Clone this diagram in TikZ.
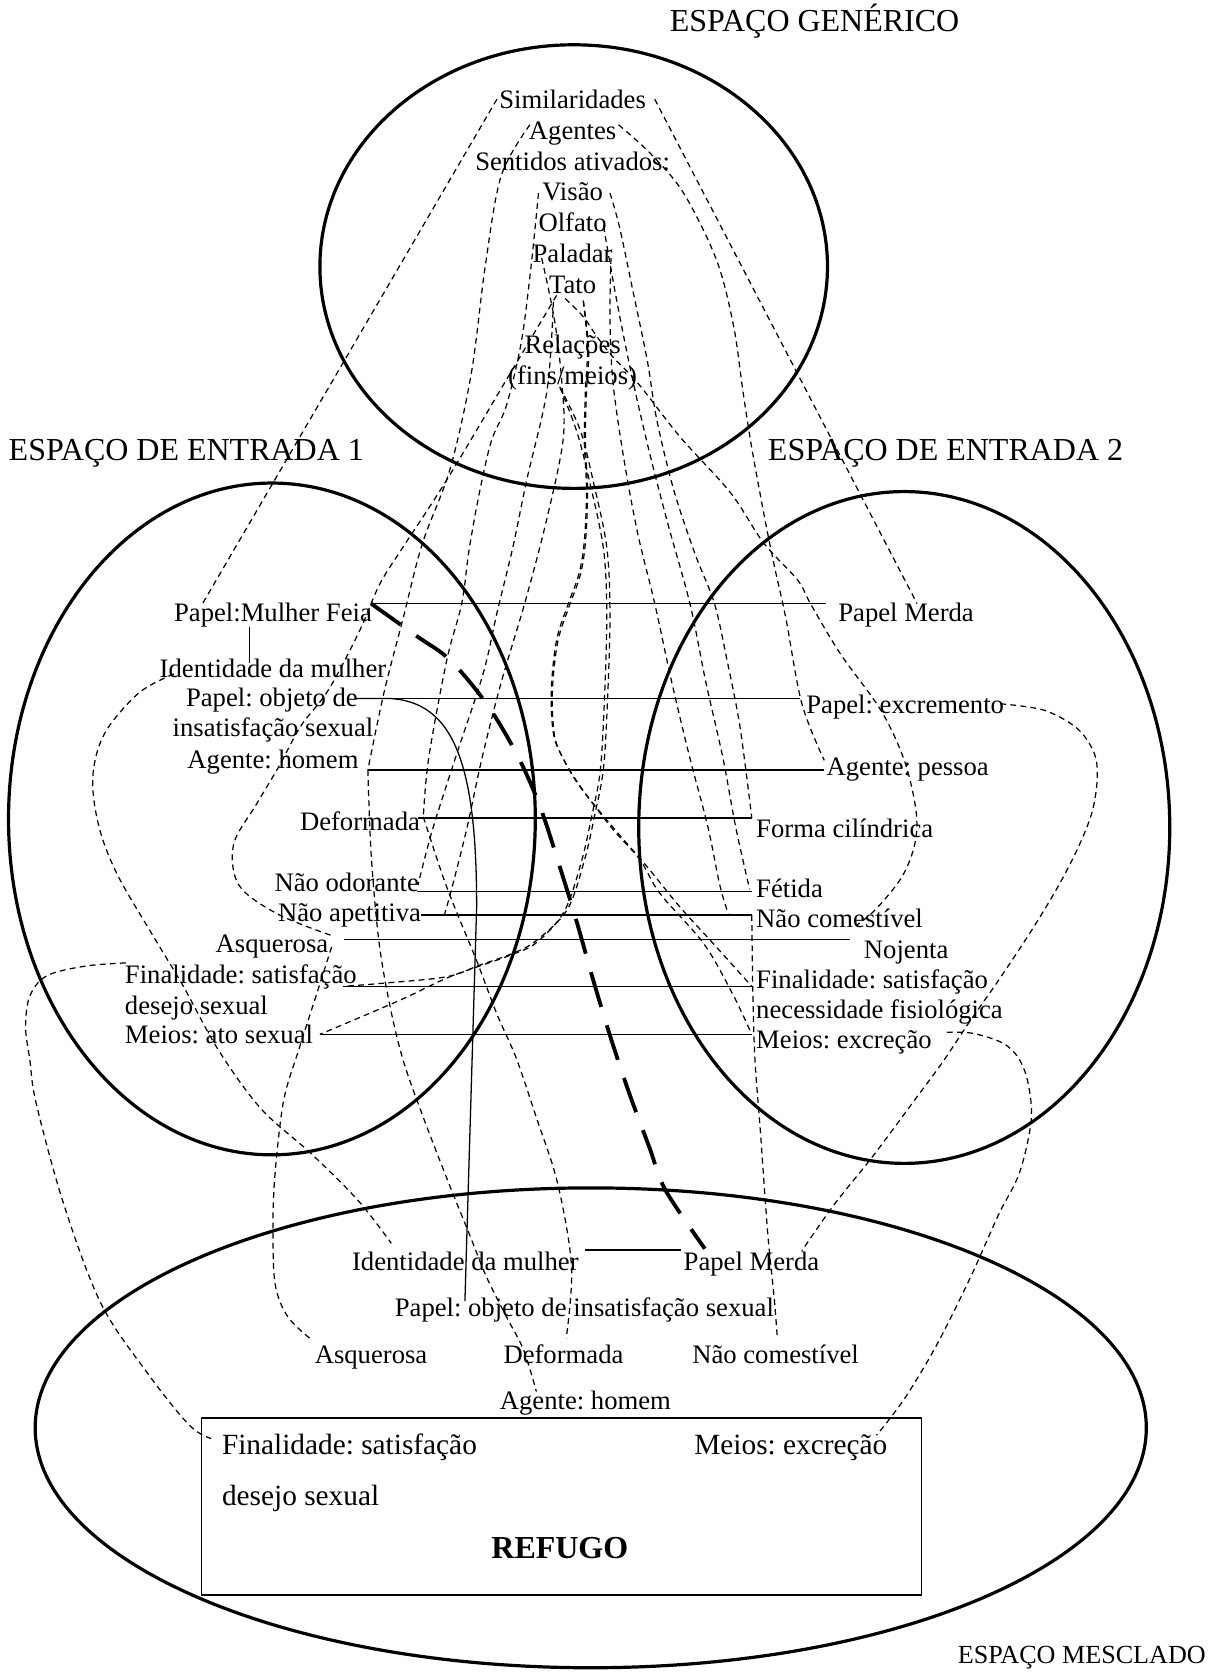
\documentclass[tikz,border=0pt]{standalone}
\usepackage{fontspec}
\setmainfont{Liberation Serif}
\frenchspacing
\begin{document}
\begin{tikzpicture}[x=1pt,y=-1pt,
  txt/.style={inner sep=0pt, font=\fontsize{25}{29}\selectfont},
  ttl/.style={inner sep=0pt, font=\fontsize{30}{34}\selectfont},
  boxtxt/.style={inner sep=0pt, font=\fontsize{27.5}{31}\selectfont},
  space/.style={line width=3pt},
  link/.style={line width=1.5pt},
  dsh/.style={line width=1.15pt, dash pattern=on 5.5pt off 4pt},
  blendln/.style={line width=3.6pt, dash pattern=on 34pt off 18pt},
  sm/.style={smooth, tension=0.55}
]
\useasboundingbox (0,0) rectangle (1151,1568);

% ---------- the four mental spaces ----------
\draw[space] (538,250) ellipse [x radius=238, y radius=208];
\draw[space] (255,768) ellipse [x radius=247, y radius=315];
\draw[space] (848,776) ellipse [x radius=249, y radius=315];
\draw[space] (554,1339) ellipse [x radius=521, y radius=225];
\draw[line width=1.5pt] (189,1330) rectangle (864,1496);

% ---------- titles ----------
\node[ttl, anchor=base west] (tg) at (628,30) {ESPAÇO GENÉRICO};
\node[ttl, anchor=base west] (t1) at (8,432) {ESPAÇO DE ENTRADA 1};
\node[ttl, anchor=base west] (t2) at (720,432) {ESPAÇO DE ENTRADA 2};
\node[inner sep=0pt, font=\fontsize{24.5}{28}\selectfont, anchor=base east] (tm) at (1131,1560) {ESPAÇO MESCLADO};

% ---------- generic space ----------
\node[txt, anchor=base] (sim) at (537,102) {Similaridades};
\node[txt, anchor=base] (ag) at (537,130.8) {Agentes};
\node[txt, anchor=base] (sen) at (537,159.6) {Sentidos ativados:};
\node[txt, anchor=base] (vis) at (537,188.4) {Visão};
\node[txt, anchor=base] (olf) at (537,217.2) {Olfato};
\node[txt, anchor=base] (pal) at (537,246) {Paladar};
\node[txt, anchor=base] (tat) at (537,274.8) {Tato};
\node[txt, anchor=base] (rel) at (537,331.6) {Relações};
\node[txt, anchor=base] (fm) at (537,360.4) {(fins/meios)};

% ---------- input space 1 ----------
\node[txt, anchor=base] (pmf1) at (256,583) {Papel:Mulher Feia};
\node[txt, anchor=base] (ide1) at (256,635) {Identidade da mulher};
\node[txt, anchor=base] (obj1) at (255,663) {Papel: objeto de};
\node[txt, anchor=base] (ins1) at (256,691) {insatisfação sexual};
\node[txt, anchor=base] (agh1) at (256,720.5) {Agente: homem};
\node[txt, anchor=base east] (def1) at (394,778.6) {Deformada};
\node[txt, anchor=base east] (nod1) at (393,836.5) {Não odorante};
\node[txt, anchor=base east] (nap1) at (395,864.6) {Não apetitiva};
\node[txt, anchor=base east] (asq1) at (308,892.8) {Asquerosa};
\node[txt, anchor=base west] (fin1) at (117,922.4) {Finalidade: satisfação};
\node[txt, anchor=base west] (des1) at (117,951.3) {desejo sexual};
\node[txt, anchor=base west] (mei1) at (117,979) {Meios: ato sexual};

% ---------- input space 2 ----------
\node[txt, anchor=base west] (pme2) at (786,583) {Papel Merda};
\node[txt, anchor=base west] (exc2) at (756,669) {Papel: excremento};
\node[txt, anchor=base west] (agp2) at (775,727) {Agente: pessoa};
\node[txt, anchor=base west] (for2) at (709,785) {Forma cilíndrica};
\node[txt, anchor=base west] (fet2) at (709,842) {Fétida};
\node[txt, anchor=base west] (ncm2) at (709,870) {Não comestível};
\node[txt, anchor=base west] (noj2) at (810,899) {Nojenta};
\node[txt, anchor=base west] (fin2) at (709,927) {Finalidade: satisfação};
\node[txt, anchor=base west] (nec2) at (709,955) {necessidade fisiológica};
\node[txt, anchor=base west] (mei2) at (709,983) {Meios: excreção};

% ---------- blended space ----------
\node[txt, anchor=base west] (ideB) at (330,1191) {Identidade da mulher};
\node[txt, anchor=base west] (pmeB) at (641,1191) {Papel Merda};
\node[txt, anchor=base] (objB) at (548,1235) {Papel: objeto de insatisfação sexual};
\node[txt, anchor=base west] (asqB) at (295,1279) {Asquerosa};
\node[txt, anchor=base west] (defB) at (472,1279) {Deformada};
\node[txt, anchor=base west] (ncmB) at (649,1279) {Não comestível};
\node[txt, anchor=base] (aghB) at (549,1322) {Agente: homem};
\node[boxtxt, anchor=base west] (finB) at (208,1364) {Finalidade: satisfação};
\node[boxtxt, anchor=base west] (desB) at (208,1412) {desejo sexual};
\node[boxtxt, anchor=base west] (meiB) at (651,1364) {Meios: excreção};
\node[inner sep=0pt, font=\fontsize{30}{34}\selectfont\bfseries, anchor=base] (ref) at (525,1462) {REFUGO};

% ---------- connector end points ----------
\coordinate (simL) at (466,93);   \coordinate (simR) at (614,93);
\coordinate (agL) at (497,117);   \coordinate (agR) at (580,117);
\coordinate (visL) at (505,181);  \coordinate (visR) at (572,181);
\coordinate (olfR) at (566,212);
\coordinate (palL) at (508,242);  \coordinate (palR) at (573,242);
\coordinate (tatL) at (522,277);  \coordinate (tatM) at (519,283);
\coordinate (tatR) at (530,280);  \coordinate (tatB) at (547,282);
\coordinate (fmL) at (525,363);

\coordinate (pmfT) at (190,566);  \coordinate (pmeT) at (860,566);
\coordinate (a1) at (348,566);  \coordinate (a2) at (775,566);
\coordinate (b1) at (334,655);  \coordinate (b2) at (750,655);
\coordinate (c1) at (345,722);  \coordinate (c2) at (773,722);
\coordinate (d1) at (392,767);  \coordinate (d2) at (705,767);
\coordinate (e1) at (391,836);  \coordinate (e2) at (705,836);
\coordinate (f1) at (395,858);  \coordinate (f2) at (705,858);
\coordinate (g1) at (323,881);  \coordinate (g2) at (797,881);
\coordinate (h1) at (322,925);  \coordinate (h2) at (705,925);
\coordinate (i1) at (300,970);  \coordinate (i2) at (705,970);
\coordinate (v1) at (234,588);  \coordinate (v2) at (234,622);
\coordinate (j1) at (549,1172); \coordinate (j2) at (639,1172);

\coordinate (agpT) at (773,713);
\coordinate (defE) at (397,766);
\coordinate (nodE) at (392,830);
\coordinate (napE) at (417,857);
\coordinate (asqT) at (310,877);
\coordinate (nojT) at (803,868);
\coordinate (ncmT) at (683,857);
\coordinate (fetE) at (703,834);
\coordinate (ideL) at (163,632);
\coordinate (asqD) at (311,888);
\coordinate (finL) at (118,903);
\coordinate (excR) at (938,660);
\coordinate (meiR) at (888,968);
\coordinate (objE) at (436,1220);
\coordinate (pmeBT) at (661,1171);
\coordinate (pmeBM) at (752,1173);
\coordinate (ideBT) at (367,1166);
\coordinate (asqBT) at (293,1257);
\coordinate (defBT) at (531,1255);
\coordinate (ncmBT) at (729,1255);
\coordinate (aghBT) at (503,1305);
\coordinate (finBT) at (198,1349);
\coordinate (meiBT) at (822,1346);

% ---------- solid correspondences ----------
\draw[link] (a1) -- (a2);
\draw[link] (b1) -- (b2);
\draw[link] (c1) -- (c2);
\draw[link] (d1) -- (d2);
\draw[link] (e1) -- (e2);
\draw[link] (f1) -- (f2);
\draw[link] (g1) -- (g2);
\draw[link] (h1) -- (h2);
\draw[link] (i1) -- (i2);
\draw[link] (v1) -- (v2);
\draw[link] (j1) -- (j2);
\draw[line width=1.2pt] (b1) -- (365,655) .. controls (425,658) and (447,715) .. (447,850) -- (objE);

% ---------- projection Papel:Mulher Feia -> Papel Merda ----------
\draw[blendln] plot[sm] coordinates {(a1) (390,596) (422,619) (457,661) (486,710) (507,758) (525,813) (541,865) (556,918) (572,971) (590,1025) (609,1076) (624,1116) (pmeBT)};

% ---------- generic space -> input spaces ----------
\draw[dsh] (simL) -- (pmfT);
\draw[dsh] (simR) -- (pmeT);
\draw[dsh] plot[sm] coordinates {(agL) (470,165) (455,250) (442,350) (422,440) (396,510) (378,580) (360,650) (c1)};
\draw[dsh] plot[sm] coordinates {(agR) (610,144) (641,181) (672,244) (688,306) (697,369) (705,420) (716,480) (726,530) (737,580) (752,660) (agpT)};
\draw[dsh] plot[sm] coordinates {(visL) (498,250) (489,320) (475,380) (461,413) (450,460) (440,515) (433,566) (419,619) (402,711) (defE)};
\draw[dsh] plot[sm] coordinates {(tatM) (513,366) (494,450) (481,513) (466,575) (453,632) (427,711) (405,780) (nodE)};
\draw[dsh] plot[sm] coordinates {(palL) (520,300) (527,360) (528,413) (512,490) (492,566) (470,640) (452,711) (438,776) (424,832) (napE)};
\draw[dsh] plot[sm] coordinates {(tatL) (475,356) (419,450) (378,513) (356,548) (337,592) (308,647) (282,681) (262,718) (240,755) (219,792) (224,830) (260,857) (asqT)};
\draw[dsh] plot[sm] coordinates {(tatR) (547,297) (560,316) (575,335) (598,359) (638,410) (685,462) (716,509) (748,544) (760,566) (788,613) (826,666) (848,713) (859,760) (858,791) (846,822) (822,852) (nojT)};
\draw[dsh] plot[sm] coordinates {(visR) (581,213) (594,275) (607,338) (616,394) (632,460) (652,520) (670,566) (682,620) (694,682) (d2)};
\draw[dsh] plot[sm] coordinates {(olfR) (578,280) (592,350) (608,420) (626,490) (647,566) (662,640) (678,711) (690,776) (fetE)};
\draw[dsh] plot[sm] coordinates {(palR) (572,300) (575,360) (585,430) (598,500) (614,566) (630,640) (647,711) (664,776) (675,830) (ncmT)};
% relations (ends / means)
\draw[dsh] plot[sm] coordinates {(fmL) (544,403) (556,450) (569,513) (572,575) (570,650) (566,720) (558,763) (548,807) (532,853) (503,882) (481,894) (450,905) (419,916) (360,922) (h1)};
\draw[dsh] plot[sm] coordinates {(fmL) (541,405) (553,452) (566,515) (569,577) (567,652) (563,722) (555,765) (545,809) (529,855) (503,884) (478,896) (422,916) (375,938) (i1)};
\draw[dsh] plot[sm] coordinates {(tatB) (551,325) (549,366) (548,413) (550,460) (548,507) (543,538) (533,566) (522,600) (517,647) (519,688) (528,711) (544,738) (575,776) (607,813) (638,851) (669,885) (h2)};
\draw[dsh] plot[sm] coordinates {(tatB) (552,327) (550,368) (549,415) (551,462) (549,509) (544,540) (534,568) (523,602) (518,649) (520,690) (529,713) (546,740) (575,778) (600,806) (619,838) (660,885) (687,932) (i2)};

% ---------- input spaces -> blended space ----------
\draw[dsh] plot[sm] coordinates {(ideL) (130,650) (98,688) (87,729) (93,776) (111,822) (148,885) (172,925) (205,985) (245,1040) (292,1082) (336,1126) (ideBT)};
\draw[dsh] plot[sm] coordinates {(asqD) (297,932) (280,985) (266,1032) (258,1100) (256,1150) (258,1204) (270,1235) (asqBT)};
\draw[dsh] plot[sm] coordinates {(finL) (80,906) (44,915) (28,934) (24,963) (28,994) (34,1035) (60,1130) (95,1223) (140,1290) (178,1337) (finBT)};
\draw[dsh] plot[sm] coordinates {(excR) (979,666) (1010,683) (1026,706) (1029,730) (1024,762) (1011,795) (993,830) (969,870) (938,917) (908,960) (884,996) (856,1034) (818,1085) (782,1130) (pmeBM)};
\draw[dsh] plot[sm] coordinates {(meiR) (912,969) (940,978) (955,992) (964,1015) (967,1051) (956,1100) (936,1140) (910,1198) (878,1262) (848,1312) (meiBT)};
\draw[dsh] plot[sm] coordinates {(f2) (706,930) (708,994) (713,1060) (720,1157) (726,1217) (ncmBT)};
\draw[dsh] plot[sm] coordinates {(c1) (348,800) (355,880) (365,940) (378,994) (397,1048) (421,1110) (440,1157) (456,1197) (475,1235) (491,1266) (aghBT)};
\draw[dsh] plot[sm] coordinates {(defE) (419,832) (447,901) (466,951) (484,992) (503,1048) (523,1110) (536,1188) (defBT)};

\end{tikzpicture}
\end{document}
